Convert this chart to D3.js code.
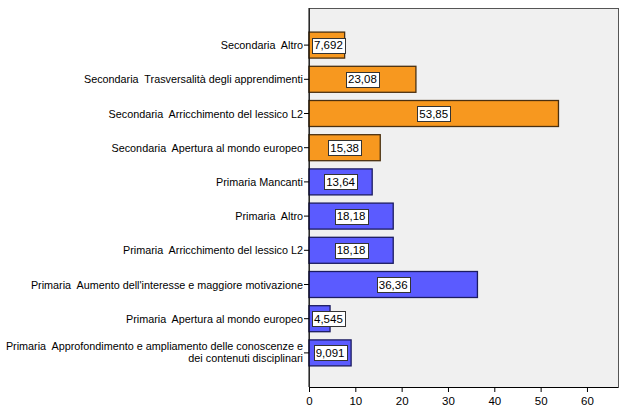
<!DOCTYPE html>
<html><head><meta charset="utf-8">
<script src="https://cdn.jsdelivr.net/npm/d3@7"></script>
<style>
body{margin:0;background:#fff;}
text{font-family:"Liberation Sans",Arial,sans-serif;}
</style></head>
<body><svg id="c" width="626" height="411"></svg>
<script>
const categories = [
  ["Secondaria  Altro"],
  ["Secondaria  Trasversalità degli apprendimenti"],
  ["Secondaria  Arricchimento del lessico L2"],
  ["Secondaria  Apertura al mondo europeo"],
  ["Primaria Mancanti"],
  ["Primaria  Altro"],
  ["Primaria  Arricchimento del lessico L2"],
  ["Primaria  Aumento dell'interesse e maggiore motivazione"],
  ["Primaria  Apertura al mondo europeo"],
  ["Primaria  Approfondimento e ampliamento delle conoscenze e", "dei contenuti disciplinari"]
];
const groups = ["Secondaria","Secondaria","Secondaria","Secondaria","Primaria","Primaria","Primaria","Primaria","Primaria","Primaria"];
const values = [7.692, 23.08, 53.85, 15.38, 13.64, 18.18, 18.18, 36.36, 4.545, 9.091];
const valueLabels = ["7,692","23,08","53,85","15,38","13,64","18,18","18,18","36,36","4,545","9,091"];
const xTicks = [0,10,20,30,40,50,60];

const fills = {Secondaria:"#F7981F", Primaria:"#5B5BFF"};
const strokes = {Secondaria:"#4a3010", Primaria:"#1c1c60"};

const svg = d3.select("#c");
const L=309, R=618, T=8, B=387;
svg.append("rect").attr("x",L).attr("y",T).attr("width",R-L).attr("height",B-T)
  .attr("fill","#F0F0F0").attr("stroke","#555").attr("stroke-width",1).attr("shape-rendering","crispEdges");

const x = d3.scaleLinear().domain([0,66.7]).range([L,R]);
const idx = d3.range(categories.length);
const y = d3.scaleBand().domain(idx).range([28,370]).paddingInner(0.24).paddingOuter(0.12);

// bars
svg.append("g").selectAll("rect").data(idx).join("rect")
  .attr("x",x(0)).attr("y",i=>y(i)).attr("width",i=>x(values[i])-x(0)).attr("height",y.bandwidth())
  .attr("fill",i=>fills[groups[i]]).attr("stroke",i=>strokes[groups[i]]).attr("stroke-width",1.3);

// value labels
const lg = svg.append("g");
idx.forEach(i=>{
  const cy = y(i)+y.bandwidth()/2;
  const t = lg.append("text").attr("font-size",11.5).attr("fill","#000").text(valueLabels[i]);
  const w = t.node().getComputedTextLength();
  const bw = w+4, bh=15;
  let cx = (x(0)+x(values[i]))/2;
  cx = Math.max(cx, x(0)+3+bw/2);
  t.attr("x",cx).attr("y",cy+4).attr("text-anchor","middle");
  lg.insert("rect","text").attr("x",Math.round(cx-bw/2)+0.5).attr("y",Math.round(cy-bh/2)+0.5)
    .attr("width",Math.round(bw)).attr("height",bh).attr("fill","#fff").attr("stroke","#333").attr("stroke-width",1);
});

// y axis
const yAxis = d3.axisLeft(y).tickSize(5).tickFormat("");
const ya = svg.append("g").attr("transform",`translate(${L},0)`).call(yAxis);
ya.select(".domain").attr("stroke","#000").attr("d",`M0,${T}V${B}`);
ya.selectAll(".tick line").attr("stroke","#000");
idx.forEach(i=>{
  const lines = categories[i];
  const cy = y(i)+y.bandwidth()/2;
  const t = svg.append("text").attr("text-anchor","end").attr("font-size",10.8).attr("fill","#000")
    .style("white-space","pre");
  const n = lines.length;
  lines.forEach((s,k)=>{
    t.append("tspan").attr("x",L-6).attr("y",cy+4+(k-(n-1)/2)*12 - (n>1?1:0)).text(s);
  });
});

// x axis
const xa = svg.append("g").attr("transform",`translate(0,${B})`)
  .call(d3.axisBottom(x).tickValues(xTicks).tickSize(5).tickFormat(d3.format("d")));
xa.select(".domain").remove();
xa.selectAll(".tick line").attr("stroke","#000");
xa.selectAll(".tick text").attr("font-size",11.5).attr("fill","#000").attr("dy","0.9em")
  .style("font-family","'Liberation Sans',Arial,sans-serif");
svg.append("line").attr("x1",L).attr("x2",R).attr("y1",B+0.5).attr("y2",B+0.5).attr("stroke","#000");
</script></body></html>
